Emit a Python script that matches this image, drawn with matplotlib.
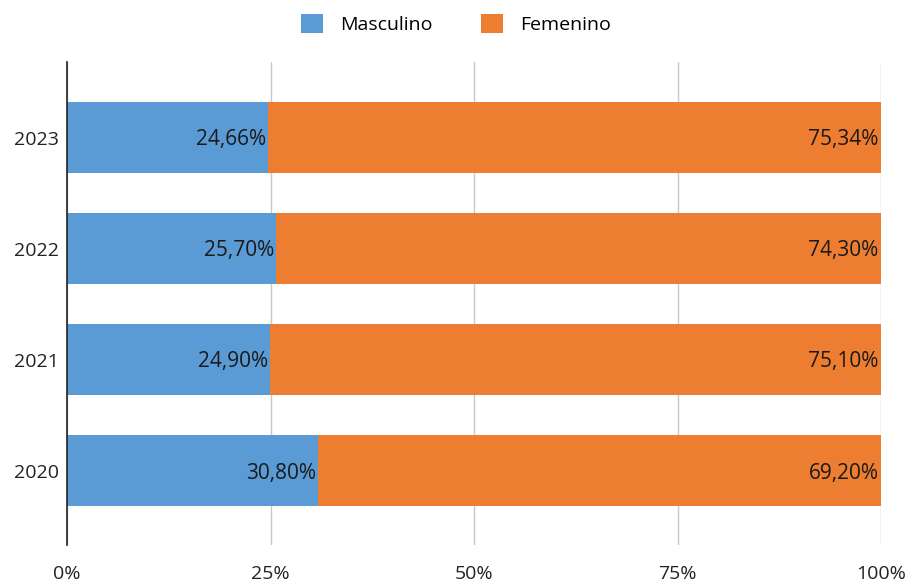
import matplotlib.pyplot as plt
import numpy as np

plt.rcParams['font.family'] = ['Open Sans', 'DejaVu Sans']

years = ['2020', '2021', '2022', '2023']
masculino = [30.80, 24.90, 25.70, 24.66]
femenino = [69.20, 75.10, 74.30, 75.34]

blue = '#5B9BD5'
orange = '#ED7D31'

fig = plt.figure(figsize=(9.12, 5.85), dpi=100)
ax = fig.add_axes([0.0735, 0.068, 0.8925, 0.826])

y = np.arange(len(years))
bm = ax.barh(y, masculino, height=0.64, color=blue, label='Masculino', zorder=2)
bf = ax.barh(y, femenino, left=masculino, height=0.64, color=orange, label='Femenino', zorder=2)

fmt = lambda v: f'{v:.2f}'.replace('.', ',') + '%'
for i in range(len(years)):
    ax.text(masculino[i] - 0.2, y[i] - 0.02, fmt(masculino[i]), ha='right', va='center',
            fontsize=15, color='#1a1a1a', zorder=3)
    ax.text(100 - 0.3, y[i] - 0.02, fmt(femenino[i]), ha='right', va='center',
            fontsize=15, color='#1a1a1a', zorder=3)

ax.set_xlim(0, 100)
ax.set_ylim(-0.67, 3.68)
ax.set_xticks([0, 25, 50, 75, 100])
ax.set_xticklabels(['0%', '25%', '50%', '75%', '100%'], fontsize=14, color='#222222')
ax.set_yticks(y)
ax.set_yticklabels(years, fontsize=14, color='#222222')
ax.tick_params(length=0)
ax.tick_params(axis='x', pad=14)
ax.tick_params(axis='y', pad=6)
ax.xaxis.grid(True, color='#c8c8c8', linewidth=1, zorder=0)
ax.set_axisbelow(True)
for s in ['top', 'right', 'bottom']:
    ax.spines[s].set_visible(False)
ax.spines['left'].set_color('#222222')
ax.spines['left'].set_linewidth(1.2)

fig.legend(handles=[bm, bf], loc='upper center', bbox_to_anchor=(0.5, 1.006), ncol=2,
           frameon=False, fontsize=14, handlelength=1.1, handleheight=1.1,
           columnspacing=2.5, handletextpad=0.9)

fig.savefig('out.png', dpi=100)
